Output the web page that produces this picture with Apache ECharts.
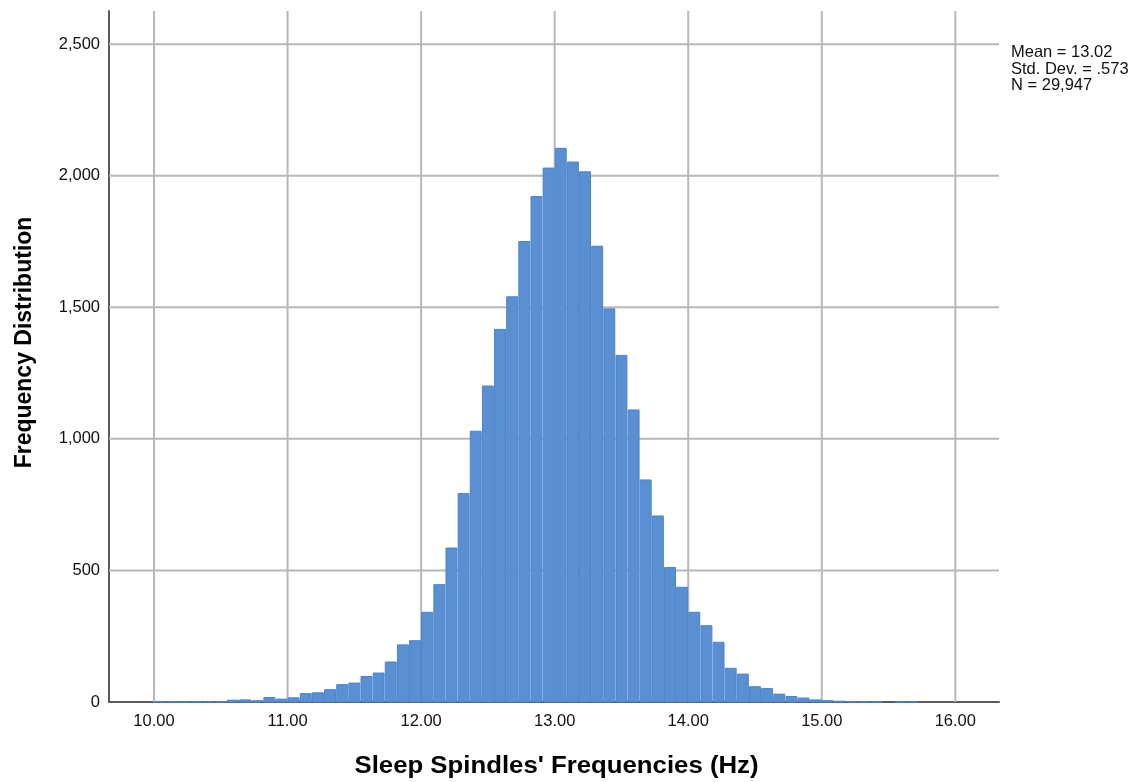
<!DOCTYPE html>
<html>
<head>
<meta charset="utf-8">
<script src="https://cdn.jsdelivr.net/npm/echarts@6/dist/echarts.min.js"></script>
<style>
html,body{margin:0;padding:0;background:#fff;}
#chart{width:1140px;height:782px;}
</style>
</head>
<body>
<div id="chart"></div>
<script>
// ---- data ----
var binStart = 10.0;
var binWidth = 1 / 11;
var counts = [1, 1, 2, 1, 2, 2, 7, 8, 5, 17, 11, 16, 32, 35, 47, 66, 72, 97, 110, 152,
  217, 233, 341, 446, 585, 792, 1029, 1201, 1416, 1540, 1750, 1921, 2029, 2104, 2052, 2015,
  1732, 1494, 1317, 1110, 844, 707, 511, 436, 341, 290, 227, 128, 106, 58, 51, 30, 21, 15,
  8, 5, 3, 2, 1, 1, 0, 1, 1, 0, 0, 0];
var xTicks = [10, 11, 12, 13, 14, 15, 16];
var yTicks = [0, 500, 1000, 1500, 2000, 2500];
var statsLines = ['Mean = 13.02', 'Std. Dev. = .573', 'N = 29,947'];
var xTitle = "Sleep Spindles' Frequencies (Hz)";
var yTitle = 'Frequency Distribution';

// ---- build ----
var binData = counts.map(function (c, i) {
  var l = binStart + i * binWidth;
  return [l, l + binWidth, c];
});
var gridData = xTicks.map(function (t) { return [0, t]; })
  .concat(yTicks.filter(function (t) { return t > 0; }).map(function (t) { return [1, t]; }));

var X_MIN = 9.663, X_MAX = 16.327, Y_MAX = 2626;
var FONT = '"Liberation Sans", Arial, sans-serif';
var chart = echarts.init(document.getElementById('chart'), null, {renderer: 'canvas'});

function fmt(v) { return v.toLocaleString('en-US'); }

var option = {
  backgroundColor: '#ffffff',
  animation: false,
  grid: {left: 109, right: 141, top: 11, bottom: 80, containLabel: false, outerBoundsMode: 'none'},
  xAxis: {
    type: 'value',
    min: X_MIN,
    max: X_MAX,
    axisLine: {show: true, onZero: false, lineStyle: {color: '#5a5a5a', width: 2}},
    axisTick: {show: false, customValues: xTicks},
    axisLabel: {
      customValues: xTicks,
      formatter: function (v) { return v.toFixed(2); },
      fontFamily: FONT, fontSize: 16.5, color: '#111', margin: 11
    },
    splitLine: {show: false}
  },
  yAxis: {
    type: 'value',
    min: 0,
    max: Y_MAX,
    axisLine: {show: true, lineStyle: {color: '#5a5a5a', width: 2}},
    axisTick: {show: false, customValues: yTicks},
    axisLabel: {
      customValues: yTicks,
      formatter: function (v) { return fmt(v); },
      fontFamily: FONT, fontSize: 16.5, color: '#111', margin: 9
    },
    splitLine: {show: false}
  },
  series: [
    {
      type: 'custom',
      z: 1,
      silent: true,
      data: gridData,
      renderItem: function (params, api) {
        var cs = params.coordSys;
        var dir = api.value(0), t = api.value(1);
        var shape;
        if (dir === 0) {
          var x = api.coord([t, 0])[0];
          shape = {x1: x, y1: cs.y, x2: x, y2: cs.y + cs.height};
        } else {
          var y = api.coord([X_MIN, t])[1];
          shape = {x1: cs.x, y1: y, x2: cs.x + cs.width, y2: y};
        }
        return {type: 'line', shape: shape, style: {stroke: '#b8b8b8', lineWidth: 2}};
      }
    },
    {
      type: 'custom',
      z: 3,
      data: binData,
      renderItem: function (params, api) {
        var p1 = api.coord([api.value(0), api.value(2)]);
        var p2 = api.coord([api.value(1), 0]);
        var h = p2[1] - p1[1];
        if (h <= 0) return null;
        return {
          type: 'rect',
          shape: {x: p1[0] + 0.6, y: p1[1], width: p2[0] - p1[0] - 1.2, height: h},
          style: {fill: '#5a8fd1', stroke: '#4a84d0', lineWidth: 1}
        };
      }
    }
  ],
  graphic: [
    {
      type: 'text',
      x: 1011,
      y: 44.5,
      style: {
        text: statsLines.join('\n'),
        font: '16.5px ' + FONT,
        fill: '#111',
        lineHeight: 16.5
      }
    },
    {
      type: 'text',
      x: 556.5,
      y: 767,
      scaleX: 1.12,
      style: {
        text: xTitle,
        font: 'bold 23px ' + FONT,
        fill: '#000',
        align: 'center',
        verticalAlign: 'middle'
      }
    },
    {
      type: 'text',
      x: 25,
      y: 342.5,
      rotation: Math.PI / 2,
      style: {
        text: yTitle,
        font: 'bold 23px ' + FONT,
        fill: '#000',
        align: 'center',
        verticalAlign: 'middle'
      }
    }
  ]
};
chart.setOption(option);
</script>
</body>
</html>
